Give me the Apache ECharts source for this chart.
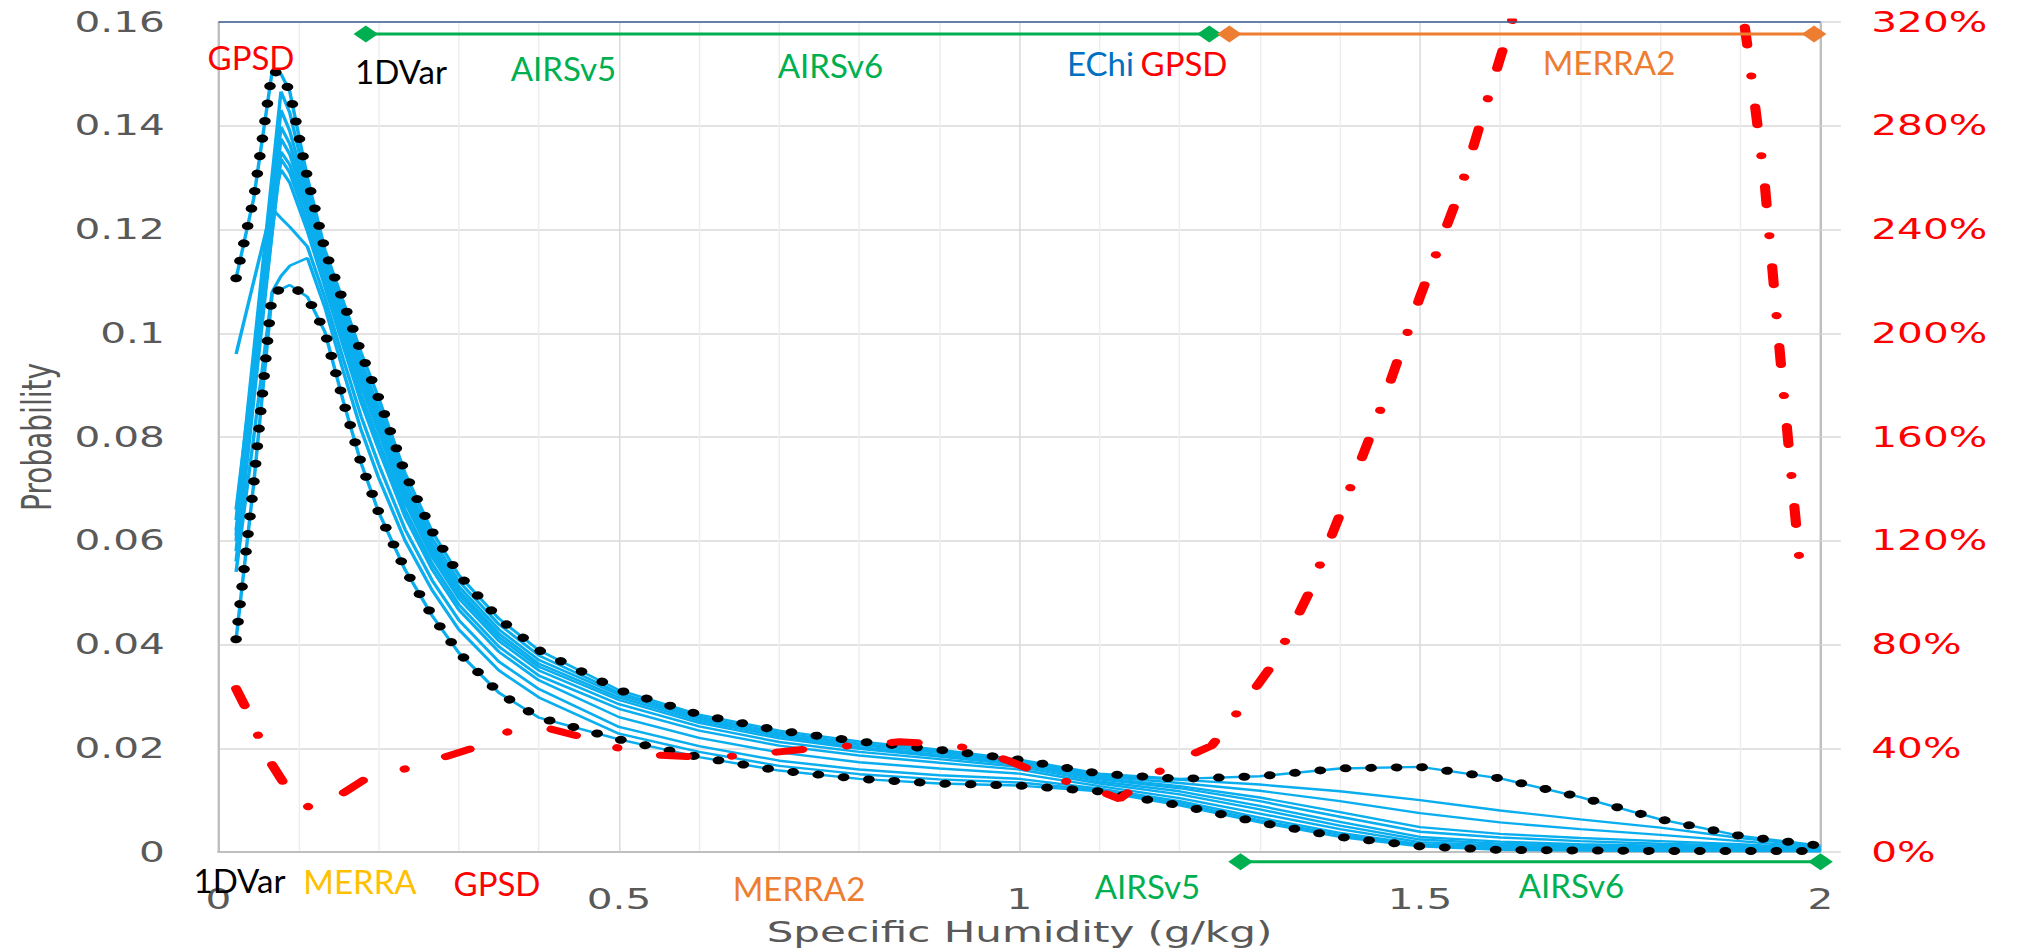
<!DOCTYPE html>
<html>
<head>
<meta charset="utf-8">
<script src="https://cdn.jsdelivr.net/npm/echarts@6.0.0/dist/echarts.min.js"></script>
<style>
  html, body { margin: 0; padding: 0; background: #ffffff; width: 2021px; height: 952px; overflow: hidden; }
  #wrap { width: 1394px; height: 952px; transform: scaleX(1.449785); transform-origin: 0 0; }
</style>
</head>
<body>
<div id="wrap"></div>
<script>
// ---------------- DATA ----------------
// specific humidity bin positions (g/kg)
const humidity = [0.022, 0.044, 0.067, 0.078, 0.089, 0.111, 0.133, 0.156, 0.178, 0.2, 0.233, 0.267, 0.3, 0.35, 0.4, 0.5, 0.6, 0.7, 0.8, 0.9, 1.0, 1.1, 1.2, 1.3, 1.4, 1.5, 1.6, 1.7, 1.8, 1.9, 2.0];

// envelope curves (drawn blue with black round dots on top)
const pdfMax = [0.1106, 0.126, 0.1505, 0.150, 0.1466, 0.130, 0.116, 0.106, 0.0963, 0.0875, 0.073, 0.0617, 0.0534, 0.045, 0.0389, 0.0312, 0.0265, 0.0234, 0.0213, 0.0197, 0.0178, 0.0151, 0.0141, 0.0146, 0.0161, 0.0164, 0.0142, 0.0106, 0.0063, 0.0031, 0.0012];
const pdfMin = [0.041, 0.071, 0.1077, 0.1085, 0.1093, 0.107, 0.1002, 0.0868, 0.075, 0.0655, 0.0544, 0.0455, 0.0384, 0.0307, 0.0259, 0.0217, 0.0183, 0.0157, 0.0141, 0.0132, 0.0128, 0.0117, 0.009, 0.0057, 0.0029, 0.0011, 0.0004, 0.0003, 0.0002, 0.0002, 0.0002];

// individual probability curves
const pdfA = [0.064, 0.0965, 0.1304, 0.1466, 0.1425, 0.1282, 0.1147, 0.1045, 0.0946, 0.0857, 0.0715, 0.0604, 0.0522, 0.0439, 0.0379, 0.0307, 0.0261, 0.0230, 0.0209, 0.0194, 0.0176, 0.0148, 0.0139, 0.0130, 0.0117, 0.0100, 0.0080, 0.0063, 0.0047, 0.0027, 0.0010];
const pdfB = [0.061, 0.0932, 0.1269, 0.143, 0.139, 0.1266, 0.1136, 0.1031, 0.0931, 0.0842, 0.0702, 0.0593, 0.0512, 0.0429, 0.0370, 0.0303, 0.0257, 0.0226, 0.0206, 0.0191, 0.0173, 0.0146, 0.0133, 0.0118, 0.0098, 0.0075, 0.0057, 0.0044, 0.0033, 0.0021, 0.0008];
const pdfC = [0.058, 0.0901, 0.1238, 0.1398, 0.1365, 0.1254, 0.1128, 0.1022, 0.0920, 0.0831, 0.0693, 0.0585, 0.0504, 0.0421, 0.0363, 0.0298, 0.0253, 0.0223, 0.0202, 0.0187, 0.0171, 0.0143, 0.0127, 0.0105, 0.0077, 0.0048, 0.0035, 0.0027, 0.0021, 0.0015, 0.0006];
const pdfD = [0.066, 0.0941, 0.1235, 0.1375, 0.1345, 0.1243, 0.1121, 0.1012, 0.0910, 0.0820, 0.0684, 0.0577, 0.0497, 0.0414, 0.0357, 0.0293, 0.0249, 0.0219, 0.0199, 0.0184, 0.0168, 0.0140, 0.0123, 0.0098, 0.0068, 0.0039, 0.0028, 0.0021, 0.0016, 0.0012, 0.0005];
const pdfE = [0.056, 0.0870, 0.1195, 0.135, 0.1325, 0.1231, 0.1113, 0.1002, 0.0899, 0.0809, 0.0674, 0.0568, 0.0489, 0.0407, 0.0350, 0.0285, 0.0242, 0.0212, 0.0193, 0.0179, 0.0164, 0.0136, 0.0117, 0.0089, 0.0058, 0.0029, 0.0020, 0.0015, 0.0012, 0.0009, 0.0004];
const pdfF = [0.062, 0.0901, 0.1196, 0.1336, 0.131, 0.1213, 0.1100, 0.0987, 0.0882, 0.0791, 0.0659, 0.0555, 0.0477, 0.0396, 0.0340, 0.0276, 0.0234, 0.0205, 0.0186, 0.0172, 0.0159, 0.0132, 0.0111, 0.0082, 0.0051, 0.0024, 0.0016, 0.0012, 0.0009, 0.0007, 0.0003];
const pdfG = [0.096, 0.110, 0.1245, 0.1315, 0.129, 0.1197, 0.1089, 0.0974, 0.0867, 0.0776, 0.0646, 0.0544, 0.0467, 0.0386, 0.0331, 0.0260, 0.0220, 0.0192, 0.0173, 0.0161, 0.0151, 0.0127, 0.0104, 0.0074, 0.0044, 0.0019, 0.0012, 0.0009, 0.0007, 0.0005, 0.0003];
const pdfH = [0.060, 0.092, 0.124, 0.1222, 0.1205, 0.1167, 0.1068, 0.0949, 0.0840, 0.0747, 0.0622, 0.0523, 0.0447, 0.0367, 0.0314, 0.0241, 0.0204, 0.0176, 0.0159, 0.0148, 0.0141, 0.0122, 0.0098, 0.0066, 0.0037, 0.0015, 0.0009, 0.0007, 0.0005, 0.0004, 0.0002];
const pdfI = [0.054, 0.080, 0.108, 0.111, 0.113, 0.1145, 0.1049, 0.0926, 0.0814, 0.0721, 0.0600, 0.0504, 0.0429, 0.0350, 0.0298, 0.0228, 0.0193, 0.0166, 0.0150, 0.0140, 0.0134, 0.0119, 0.0094, 0.0061, 0.0033, 0.0013, 0.0007, 0.0005, 0.0004, 0.0003, 0.0002];

// red ratio curve (right axis, %)
const ratioX   = [0.022, 0.04, 0.06, 0.083, 0.115, 0.147, 0.181, 0.228, 0.278, 0.318, 0.361, 0.41, 0.454, 0.5, 0.55, 0.6, 0.65, 0.7, 0.75, 0.8, 0.85, 0.9, 0.95, 1.0, 1.04, 1.08, 1.125, 1.16, 1.2, 1.24, 1.28, 1.32, 1.36, 1.4, 1.45, 1.5, 1.55, 1.6, 1.65, 1.7, 1.75, 1.8, 1.85, 1.88, 1.91, 1.93, 1.95, 1.976];
const ratioPct = [63, 52, 37, 25.8, 16.6, 21, 27.7, 31.6, 36.2, 40.1, 46.3, 47.8, 44.3, 40, 37.3, 36.6, 37, 38.6, 40.2, 41.2, 42.5, 41.7, 39.5, 33.5, 28.5, 25.8, 20.5, 28.5, 35.5, 41, 57, 74, 99, 130, 170, 214, 255, 306, 355, 400, 440, 460, 430, 375, 308, 259, 190, 105];

// range bars (g/kg) and the probability level they sit at
const echiRange = [0, 2];
const airsTopRange = [0.184, 1.237];
const merra2Range = [1.262, 1.992];
const airsBottomRange = [1.276, 2.0];
const topLevel = 0.16;
const rangeTopLevel = 0.1577;
const rangeBottomLevel = -0.0019;

// ---------------- CHART ----------------
const K = 2021 / 1394;             // horizontal stretch of the original picture
const FONT = "'DejaVu Sans', sans-serif";
const LFONT = "Lato, 'Open Sans', sans-serif";
const BLUE = '#0AAEEE';

const pairs = (xs, ys) => xs.map((x, i) => [x, ys[i]]);

const series = [];
[pdfA, pdfB, pdfC, pdfD, pdfE, pdfF, pdfG, pdfH, pdfI, pdfMax, pdfMin].forEach((v, i) => {
  series.push({
    type: 'line', name: 'pdf' + i, data: pairs(humidity, v),
    showSymbol: false, symbol: 'none', z: 2,
    lineStyle: { color: BLUE, width: 2.4 }
  });
});
[pdfMax, pdfMin].forEach((v, i) => {
  series.push({
    type: 'line', name: i ? 'min' : 'max', data: pairs(humidity, v),
    showSymbol: false, symbol: 'none', z: 3,
    lineStyle: { color: '#000000', width: 8, type: [0.1, 17.5], cap: 'round' }
  });
});
series.push({
  type: 'line', name: 'ratio', yAxisIndex: 1, data: pairs(ratioX, ratioPct),
  showSymbol: false, symbol: 'none', z: 4, clip: true,
  lineStyle: { color: '#FF0000', width: 7, type: [18, 31, 0.1, 31], cap: 'round' }
});
series.push({
  type: 'line', name: 'EChi', data: echiRange.map(x => [x, topLevel]), clip: false,
  showSymbol: false, symbol: 'none', z: 5,
  lineStyle: { color: '#3D5F93', width: 1.6 }
});
function rangeSeries(r, level, color) {
  return {
    type: 'line', data: r.map(x => [x, level]), clip: false, z: 6,
    symbol: 'diamond', symbolSize: [17, 17], showSymbol: true,
    itemStyle: { color: color }, lineStyle: { color: color, width: 3 }
  };
}
series.push(rangeSeries(airsTopRange, rangeTopLevel, '#00B050'));
series.push(rangeSeries(merra2Range, rangeTopLevel, '#ED7D31'));
series.push(rangeSeries(airsBottomRange, rangeBottomLevel, '#00B050'));

// annotation texts (placed in final picture pixels, un-stretched)
const notes = [
  ['GPSD', '#FF0000', 251, 57], ['1DVar', '#000000', 401, 71], ['AIRSv5', '#00B050', 563.5, 68],
  ['AIRSv6', '#00B050', 830.5, 65], ['EChi', '#0070C0', 1100.5, 63], ['GPSD', '#FF0000', 1184, 63],
  ['MERRA2', '#ED7D31', 1609, 62],
  ['1DVar', '#000000', 239.5, 880], ['MERRA', '#FFC000', 360, 881], ['GPSD', '#FF0000', 497, 883],
  ['MERRA2', '#ED7D31', 799, 888], ['AIRSv5', '#00B050', 1147.5, 886], ['AIRSv6', '#00B050', 1571.5, 885]
];
const graphic = notes.map(n => ({
  type: 'text', x: n[2] / K, y: n[3], scaleX: 1 / K, z: 100,
  style: {
    text: n[0], fill: n[1], fontSize: 33, fontFamily: LFONT, font: '33px ' + LFONT,
    textAlign: 'center', textVerticalAlign: 'middle', align: 'center', verticalAlign: 'middle'
  }
}));

const option = {
  animation: false,
  backgroundColor: '#ffffff',
  grid: { left: 150.7, right: 138.3, top: 22, bottom: 100, containLabel: false, outerBoundsMode: 'none' },
  xAxis: {
    type: 'value', min: 0, max: 2, interval: 0.5,
    name: 'Specific Humidity (g/kg)', nameLocation: 'middle', nameGap: 64,
    nameTextStyle: { color: '#595959', fontSize: 29, fontFamily: FONT },
    axisLine: { show: true, onZero: false, lineStyle: { color: '#BFBFBF', width: 2 } },
    axisTick: { show: false },
    axisLabel: { color: '#595959', fontSize: 28, fontFamily: FONT, margin: 33 },
    splitLine: { show: true, lineStyle: { color: '#D9D9D9', width: 1 } },
    minorTick: { show: false, splitNumber: 5 },
    minorSplitLine: { show: true, lineStyle: { color: '#EDEDED', width: 1 } }
  },
  yAxis: [{
    type: 'value', min: 0, max: 0.16, interval: 0.02,
    name: 'Probability', nameLocation: 'middle', nameGap: 111,
    nameTextStyle: { color: '#595959', fontSize: 28, fontFamily: FONT },
    axisLine: { show: true, lineStyle: { color: '#BFBFBF', width: 1.5 } },
    axisTick: { show: false },
    axisLabel: { color: '#595959', fontSize: 28, fontFamily: FONT, margin: 37 },
    splitLine: { show: true, lineStyle: { color: '#D9D9D9', width: 1.5 } }
  }, {
    type: 'value', min: 0, max: 320, interval: 40, position: 'right',
    axisLine: { show: true, lineStyle: { color: '#BFBFBF', width: 1.5 } },
    axisTick: { show: true, length: 14, lineStyle: { color: '#D9D9D9', width: 1.5 } },
    axisLabel: { color: '#FF0000', fontSize: 28, fontFamily: FONT, margin: 35, formatter: '{value}%' },
    splitLine: { show: false }
  }],
  series: series,
  graphic: graphic
};

const chart = echarts.init(document.getElementById('wrap'), null, { renderer: 'svg' });
chart.setOption(option);
</script>
</body>
</html>
